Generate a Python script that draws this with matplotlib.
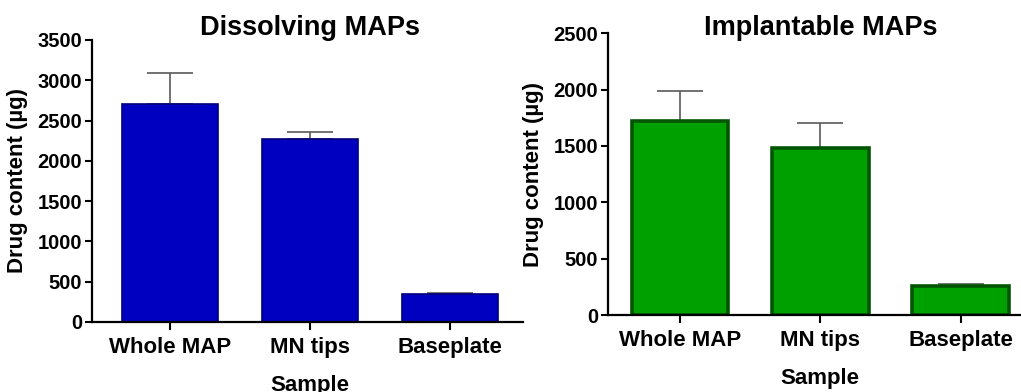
import matplotlib
matplotlib.use("Agg")
import matplotlib.pyplot as plt

plt.rcParams['font.family'] = ['Liberation Sans', 'DejaVu Sans']
plt.rcParams['font.weight'] = 'bold'

samples = ['Whole MAP', 'MN tips', 'Baseplate']

# Dissolving MAPs (mean, upper SD)
dissolving_mean = [2705, 2268, 350]
dissolving_sd = [390, 92, 12]

# Implantable MAPs
implantable_mean = [1722, 1485, 258]
implantable_sd = [265, 222, 20]


def draw_panel(ax, means, sds, title, ymax, ystep, fill, edge, edge_lw, xlim, title_pad):
    x = range(len(samples))
    ax.bar(x, means, width=0.69, color=fill, edgecolor=edge, linewidth=edge_lw, zorder=2)
    # only the upper half of the error bar is shown
    ax.errorbar(x, means, yerr=[[0] * len(sds), sds], fmt='none', ecolor='#5a5a5a',
                elinewidth=1.2, capsize=16.5, capthick=1.2, zorder=1)
    ax.set_ylim(0, ymax)
    ax.set_yticks(range(0, ymax + 1, ystep))
    ax.set_xlim(*xlim)
    ax.set_xticks(list(x))
    ax.set_xticklabels(samples, fontsize=16, fontweight='bold')
    ax.tick_params(axis='y', labelsize=14.5, width=1.5, length=5, pad=2)
    ax.tick_params(axis='x', width=1.5, length=6, pad=5)
    for s in ['top', 'right']:
        ax.spines[s].set_visible(False)
    for s in ['left', 'bottom']:
        ax.spines[s].set_linewidth(1.6)
    ax.set_ylabel('Drug content (µg)', fontsize=16, fontweight='bold', labelpad=7)
    ax.annotate(title, xy=(1, 1), xycoords=('data', 'axes fraction'), xytext=(0, title_pad),
                textcoords='offset points', ha='center', va='baseline',
                fontsize=19.5, fontweight='bold')
    ax.annotate('Sample', xy=(1, 0), xycoords=('data', 'axes fraction'), xytext=(0, -38),
                textcoords='offset points', ha='center', va='top',
                fontsize=16, fontweight='bold')


fig = plt.figure(figsize=(10.21, 3.92), dpi=100)
ax1 = fig.add_axes([0.0901, 0.1786, 0.4221, 0.7194])
ax2 = fig.add_axes([0.5955, 0.1964, 0.4045, 0.7186])

draw_panel(ax1, dissolving_mean, dissolving_sd, 'Dissolving MAPs', 3500, 500,
           '#0000c0', '#00007a', 1.2, (-0.556, 2.52), 3.6)
draw_panel(ax2, implantable_mean, implantable_sd, 'Implantable MAPs', 2500, 500,
           '#00a000', '#005500', 2.6, (-0.513, 2.43), -1.4)

fig.savefig('out.png', dpi=100)
